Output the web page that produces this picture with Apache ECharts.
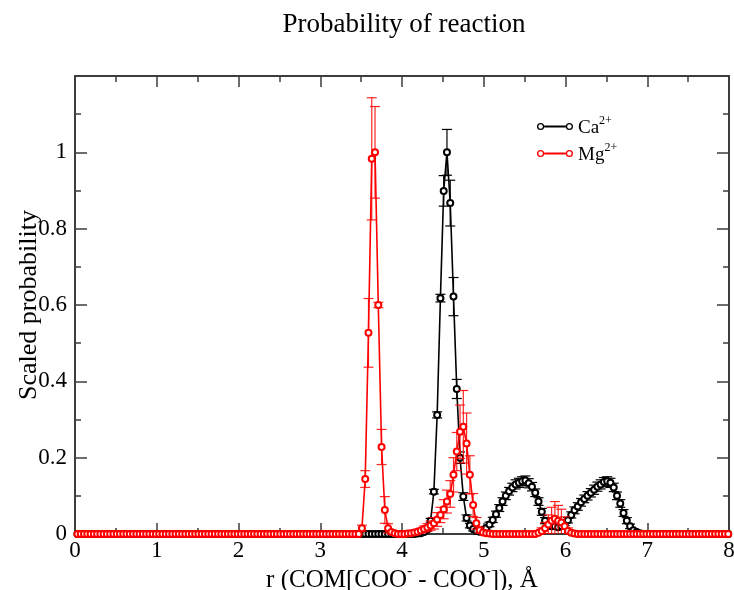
<!DOCTYPE html>
<html>
<head>
<meta charset="utf-8">
<script src="https://cdn.jsdelivr.net/npm/echarts@6/dist/echarts.min.js"></script>
<style>
html,body{margin:0;padding:0;background:#fff;}
#chart{width:734px;height:590px;}
</style>
</head>
<body>
<div id="chart"></div>
<script>
// Bin grid: centres of 0.04-wide bins from 0 to 8
const binStart = 0.03;
const binWidth = 0.04;
const binCount = 200;

// Ca2+ scaled probability, one row per unit of r (25 bins each)
const caValues = [
  0,0,0,0,0,0,0,0,0,0,0,0,0,0,0,0,0,0,0,0,0,0,0,0,0,
  0,0,0,0,0,0,0,0,0,0,0,0,0,0,0,0,0,0,0,0,0,0,0,0,0,
  0,0,0,0,0,0,0,0,0,0,0,0,0,0,0,0,0,0,0,0,0,0,0,0,0,
  0,0,0,0,0,0,0,0,0,0,0,0,0,0,0,0,0,0,0,0,0,0,0,0,0,
  0,0,0,0,0.001,0.002,0.005,0.012,0.035,0.111,0.312,0.618,0.899,1.0,0.867,0.622,0.38,0.2,0.098,0.042,0.022,0.013,0.008,0.006,0.008,
  0.015,0.025,0.037,0.052,0.068,0.085,0.1,0.112,0.122,0.13,0.134,0.138,0.14,0.133,0.124,0.108,0.085,0.058,0.035,0.022,0.02,0.02,0.018,0.02,0.028,
  0.036,0.05,0.062,0.072,0.083,0.092,0.1,0.108,0.116,0.124,0.13,0.136,0.138,0.134,0.122,0.1,0.08,0.055,0.035,0.02,0.01,0.005,0.002,0,0,
  0,0,0,0,0,0,0,0,0,0,0,0,0,0,0,0,0,0,0,0,0,0,0,0,0
];
const caErrors = [
  0,0,0,0,0,0,0,0,0,0,0,0,0,0,0,0,0,0,0,0,0,0,0,0,0,
  0,0,0,0,0,0,0,0,0,0,0,0,0,0,0,0,0,0,0,0,0,0,0,0,0,
  0,0,0,0,0,0,0,0,0,0,0,0,0,0,0,0,0,0,0,0,0,0,0,0,0,
  0,0,0,0,0,0,0,0,0,0,0,0,0,0,0,0,0,0,0,0,0,0,0,0,0,
  0,0,0,0,0.001,0.002,0.003,0.004,0.006,0.006,0.008,0.01,0.04,0.06,0.06,0.05,0.025,0.015,0.01,0.008,0.006,0.005,0.004,0.004,0.004,
  0.005,0.006,0.007,0.008,0.009,0.01,0.01,0.01,0.011,0.012,0.012,0.012,0.012,0.012,0.011,0.01,0.01,0.009,0.008,0.006,0.005,0.005,0.005,0.005,0.006,
  0.007,0.008,0.009,0.01,0.01,0.01,0.011,0.011,0.012,0.012,0.012,0.012,0.012,0.012,0.011,0.01,0.01,0.009,0.008,0.006,0.004,0.003,0.002,0,0,
  0,0,0,0,0,0,0,0,0,0,0,0,0,0,0,0,0,0,0,0,0,0,0,0,0
];

// Mg2+ scaled probability
const mgValues = [
  0,0,0,0,0,0,0,0,0,0,0,0,0,0,0,0,0,0,0,0,0,0,0,0,0,
  0,0,0,0,0,0,0,0,0,0,0,0,0,0,0,0,0,0,0,0,0,0,0,0,0,
  0,0,0,0,0,0,0,0,0,0,0,0,0,0,0,0,0,0,0,0,0,0,0,0,0,
  0,0,0,0,0,0,0,0,0,0,0,0,0.015,0.144,0.527,0.983,1.0,0.6,0.228,0.063,0.015,0.005,0.002,0,0,
  0,0.001,0.002,0.004,0.006,0.009,0.013,0.017,0.022,0.028,0.038,0.05,0.065,0.085,0.105,0.155,0.216,0.268,0.281,0.237,0.155,0.076,0.028,0.01,0.004,
  0.002,0.001,0,0,0,0,0,0,0,0,0,0,0,0,0,0,0.003,0.008,0.015,0.025,0.035,0.04,0.035,0.03,0.02,
  0.008,0.003,0.001,0,0,0,0,0,0,0,0,0,0,0,0,0,0,0,0,0,0,0,0,0,0,
  0,0,0,0,0,0,0,0,0,0,0,0,0,0,0,0,0,0,0,0,0,0,0,0,0
];
const mgErrors = [
  0,0,0,0,0,0,0,0,0,0,0,0,0,0,0,0,0,0,0,0,0,0,0,0,0,
  0,0,0,0,0,0,0,0,0,0,0,0,0,0,0,0,0,0,0,0,0,0,0,0,0,
  0,0,0,0,0,0,0,0,0,0,0,0,0,0,0,0,0,0,0,0,0,0,0,0,0,
  0,0,0,0,0,0,0,0,0,0,0,0,0.008,0.022,0.09,0.16,0.12,0.007,0.046,0.035,0.012,0.005,0.002,0,0,
  0,0.001,0.002,0.003,0.004,0.006,0.008,0.01,0.012,0.015,0.018,0.02,0.025,0.03,0.035,0.045,0.05,0.07,0.095,0.08,0.05,0.03,0.015,0.008,0.004,
  0.002,0.001,0,0,0,0,0,0,0,0,0,0,0,0,0,0,0.003,0.008,0.015,0.025,0.035,0.045,0.04,0.035,0.025,
  0.008,0.003,0.001,0,0,0,0,0,0,0,0,0,0,0,0,0,0,0,0,0,0,0,0,0,0,
  0,0,0,0,0,0,0,0,0,0,0,0,0,0,0,0,0,0,0,0,0,0,0,0,0
];

const seriesNames = ['Ca2+', 'Mg2+'];
const xTicks = [0, 1, 2, 3, 4, 5, 6, 7, 8];
const yTickLabels = ['0', '0.2', '0.4', '0.6', '0.8', '1'];

const SERIF = '"Liberation Serif", "DejaVu Serif", serif';

function build(values, errors) {
  const line = [], err = [];
  for (let i = 0; i < binCount; i++) {
    const x = +(binStart + binWidth * i).toFixed(2);
    line.push([x, values[i]]);
    err.push([x, values[i], errors[i]]);
  }
  return {line, err};
}
const ca = build(caValues, caErrors);
const mg = build(mgValues, mgErrors);

function errRender(color) {
  return function (params, api) {
    const x = api.value(0), y = api.value(1), e = api.value(2);
    if (!(e > 0)) return null;
    const top = api.coord([x, y + e]);
    const lowV = y - e;
    const bot = api.coord([x, Math.max(0, lowV)]);
    const hw = 5;
    const style = {stroke: color, lineWidth: 1.2, fill: null};
    const children = [
      {type: 'line', shape: {x1: top[0], y1: top[1], x2: bot[0], y2: bot[1]}, style},
      {type: 'line', shape: {x1: top[0] - hw, y1: top[1], x2: top[0] + hw, y2: top[1]}, style}
    ];
    if (lowV >= 0) children.push({type: 'line', shape: {x1: bot[0] - hw, y1: bot[1], x2: bot[0] + hw, y2: bot[1]}, style});
    return {type: 'group', children};
  };
}

const legendIcon = 'path://M0.5,4A3.5,3.5,0,1,1,7.5,4A3.5,3.5,0,1,1,0.5,4Z M1.8,4A2.2,2.2,0,1,0,6.2,4A2.2,2.2,0,1,0,1.8,4Z M7.5,3.1L28.5,3.1L28.5,4.9L7.5,4.9Z M28.5,4A3.5,3.5,0,1,1,35.5,4A3.5,3.5,0,1,1,28.5,4Z M29.8,4A2.2,2.2,0,1,0,34.2,4A2.2,2.2,0,1,0,29.8,4Z';

const axisLineStyle = {color: '#3c3c3c', width: 2};
const chart = echarts.init(document.getElementById('chart'), null, {renderer: 'canvas'});
chart.setOption({
  animation: false,
  backgroundColor: '#fff',
  title: {
    text: 'Probability of reaction',
    left: 399, textAlign: 'center', top: 6,
    textStyle: {fontFamily: SERIF, fontSize: 27, fontWeight: 'normal', color: '#000'}
  },
  legend: {
    orient: 'vertical', left: 532, top: 110, itemGap: 4,
    itemWidth: 36, itemHeight: 8, icon: legendIcon,
    itemStyle: {borderWidth: 0},
    data: [
      {name: seriesNames[0], itemStyle: {color: '#000', borderWidth: 0}},
      {name: seriesNames[1], itemStyle: {color: '#ff0000', borderWidth: 0}}
    ],
    formatter: function (name) {
      return name === seriesNames[0] ? '{m|Ca}{s|2+}' : '{m|Mg}{s|2+}';
    },
    textStyle: {
      rich: {
        m: {fontFamily: SERIF, fontSize: 19, color: '#000', lineHeight: 23, verticalAlign: 'bottom'},
        s: {fontFamily: SERIF, fontSize: 12, color: '#000', lineHeight: 23, verticalAlign: 'top'}
      }
    }
  },
  grid: {left: 75, right: 5, top: 76, bottom: 56, containLabel: false, outerBoundsMode: 'none'},
  xAxis: [{
    type: 'value', min: xTicks[0], max: xTicks[xTicks.length - 1], interval: 1,
    position: 'bottom',
    axisLine: {show: true, onZero: false, lineStyle: axisLineStyle},
    axisTick: {show: true, inside: true, length: 11, lineStyle: {color: '#3c3c3c', width: 1.5}},
    minorTick: {show: true, splitNumber: 2, length: 6, lineStyle: {color: '#3c3c3c', width: 1.5}},
    splitLine: {show: false},
    axisLabel: {fontFamily: SERIF, fontSize: 23, color: '#000', margin: 5},
    name: '{n|r (COM[COO}{s|-}{n| - COO}{s|-}{n|]), Å}',
    nameLocation: 'middle', nameGap: 30, nameMoveOverlap: false,
    nameTextStyle: {
      rich: {
        n: {fontFamily: SERIF, fontSize: 25, color: '#000', lineHeight: 29, verticalAlign: 'bottom'},
        s: {fontFamily: SERIF, fontSize: 15, color: '#000', lineHeight: 29, verticalAlign: 'top'}
      }
    }
  }, {
    type: 'value', min: 0, max: 8, interval: 1, position: 'top',
    axisLine: {show: true, onZero: false, lineStyle: axisLineStyle},
    axisTick: {show: true, inside: true, length: 11, lineStyle: {color: '#3c3c3c', width: 1.5}},
    minorTick: {show: true, splitNumber: 2, length: 6, lineStyle: {color: '#3c3c3c', width: 1.5}},
    splitLine: {show: false},
    axisLabel: {show: false}
  }],
  yAxis: [{
    type: 'value', min: 0, max: 1.2, interval: 0.2, position: 'left',
    axisLine: {show: true, onZero: false, lineStyle: axisLineStyle},
    axisTick: {show: true, inside: true, length: 12, lineStyle: {color: '#3c3c3c', width: 1.5}},
    minorTick: {show: true, splitNumber: 2, length: 6, lineStyle: {color: '#3c3c3c', width: 1.5}},
    splitLine: {show: false},
    axisLabel: {
      fontFamily: SERIF, fontSize: 23, color: '#000', margin: 8,
      formatter: function (v) {
        const idx = Math.round(v / 0.2);
        return idx < yTickLabels.length ? yTickLabels[idx] : '';
      }
    },
    name: 'Scaled probability', nameLocation: 'middle', nameGap: 33, nameMoveOverlap: false,
    nameTextStyle: {fontFamily: SERIF, fontSize: 26, color: '#000'}
  }, {
    type: 'value', min: 0, max: 1.2, interval: 0.2, position: 'right',
    axisLine: {show: true, onZero: false, lineStyle: axisLineStyle},
    axisTick: {show: true, inside: true, length: 12, lineStyle: {color: '#3c3c3c', width: 1.5}},
    minorTick: {show: true, splitNumber: 2, length: 6, lineStyle: {color: '#3c3c3c', width: 1.5}},
    splitLine: {show: false},
    axisLabel: {show: false}
  }],
  series: [
    {
      name: seriesNames[0] + ' err', type: 'custom', xAxisIndex: 0, yAxisIndex: 0, z: 2,
      renderItem: errRender('#000'), data: ca.err, encode: {x: 0, y: 1}, clip: true, silent: true
    },
    {
      name: seriesNames[0], type: 'line', xAxisIndex: 0, yAxisIndex: 0, z: 3,
      data: ca.line, symbol: 'emptyCircle', symbolSize: 6, showSymbol: true, showAllSymbol: true,
      color: '#000',
      lineStyle: {color: '#000', width: 1.6},
      itemStyle: {color: '#000', borderColor: '#000', borderWidth: 1}
    },
    {
      name: seriesNames[1] + ' err', type: 'custom', xAxisIndex: 0, yAxisIndex: 0, z: 4,
      renderItem: errRender('rgba(255,0,0,0.85)'), data: mg.err, encode: {x: 0, y: 1}, clip: true, silent: true
    },
    {
      name: seriesNames[1], type: 'line', xAxisIndex: 0, yAxisIndex: 0, z: 5,
      data: mg.line, symbol: 'emptyCircle', symbolSize: 6, showSymbol: true, showAllSymbol: true,
      color: '#ff0000',
      lineStyle: {color: '#ff0000', width: 1.6},
      itemStyle: {color: '#ff0000', borderColor: '#ff0000', borderWidth: 1}
    }
  ]
});
</script>
</body>
</html>
